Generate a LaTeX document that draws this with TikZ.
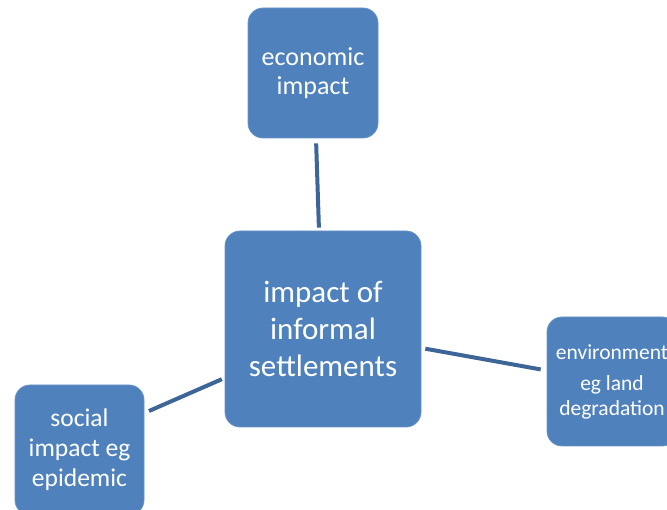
\documentclass[tikz,border=0pt]{standalone}
\usepackage{fontspec}
\setmainfont{Carlito}
\definecolor{boxblue}{HTML}{4F81BD}
\definecolor{linkblue}{HTML}{3D6598}
\begin{document}
\begin{tikzpicture}[x=1pt, y=-1pt,
  every node/.style = {shape=rectangle, rounded corners=15pt,
    fill=boxblue, draw=boxblue!85!white, line width=0.8pt,
    align=center, text=white, inner sep=0pt},
  link/.style = {draw=linkblue, line width=4pt}]
  \useasboundingbox (0,0) rectangle (667,510);
  \node (cen) [minimum width=196pt, minimum height=196pt,
    font=\fontsize{31}{37}\selectfont] at (323,329)
    {impact of\\ informal\\ settlements};
  \node (eco) [minimum width=130pt, minimum height=130pt,
    font=\fontsize{26}{29}\selectfont] at (313,73)
    {economic\\ impact};
  \node (env) [minimum width=130pt, minimum height=129pt,
    font=\fontsize{21.5}{25}\selectfont] at (612,381.5)
    {environment\\[6pt] eg land\\ degradation};
  \node (soc) [minimum width=129pt, minimum height=130pt,
    font=\fontsize{25.5}{30}\selectfont] at (79.5,450)
    {social\\ impact eg\\ epidemic};
  \draw[link, shorten <=5pt, shorten >=3pt] ([xshift=3pt]eco.south) -- ([xshift=-4pt]cen.north);
  \draw[link, shorten <=4pt, shorten >=6pt] ([yshift=-19pt]cen.east) -- ([yshift=11pt]env.west);
  \draw[link, shorten <=3pt, shorten >=5pt] ([yshift=-49pt]cen.west) -- ([yshift=37pt]soc.east);
\end{tikzpicture}
\end{document}
